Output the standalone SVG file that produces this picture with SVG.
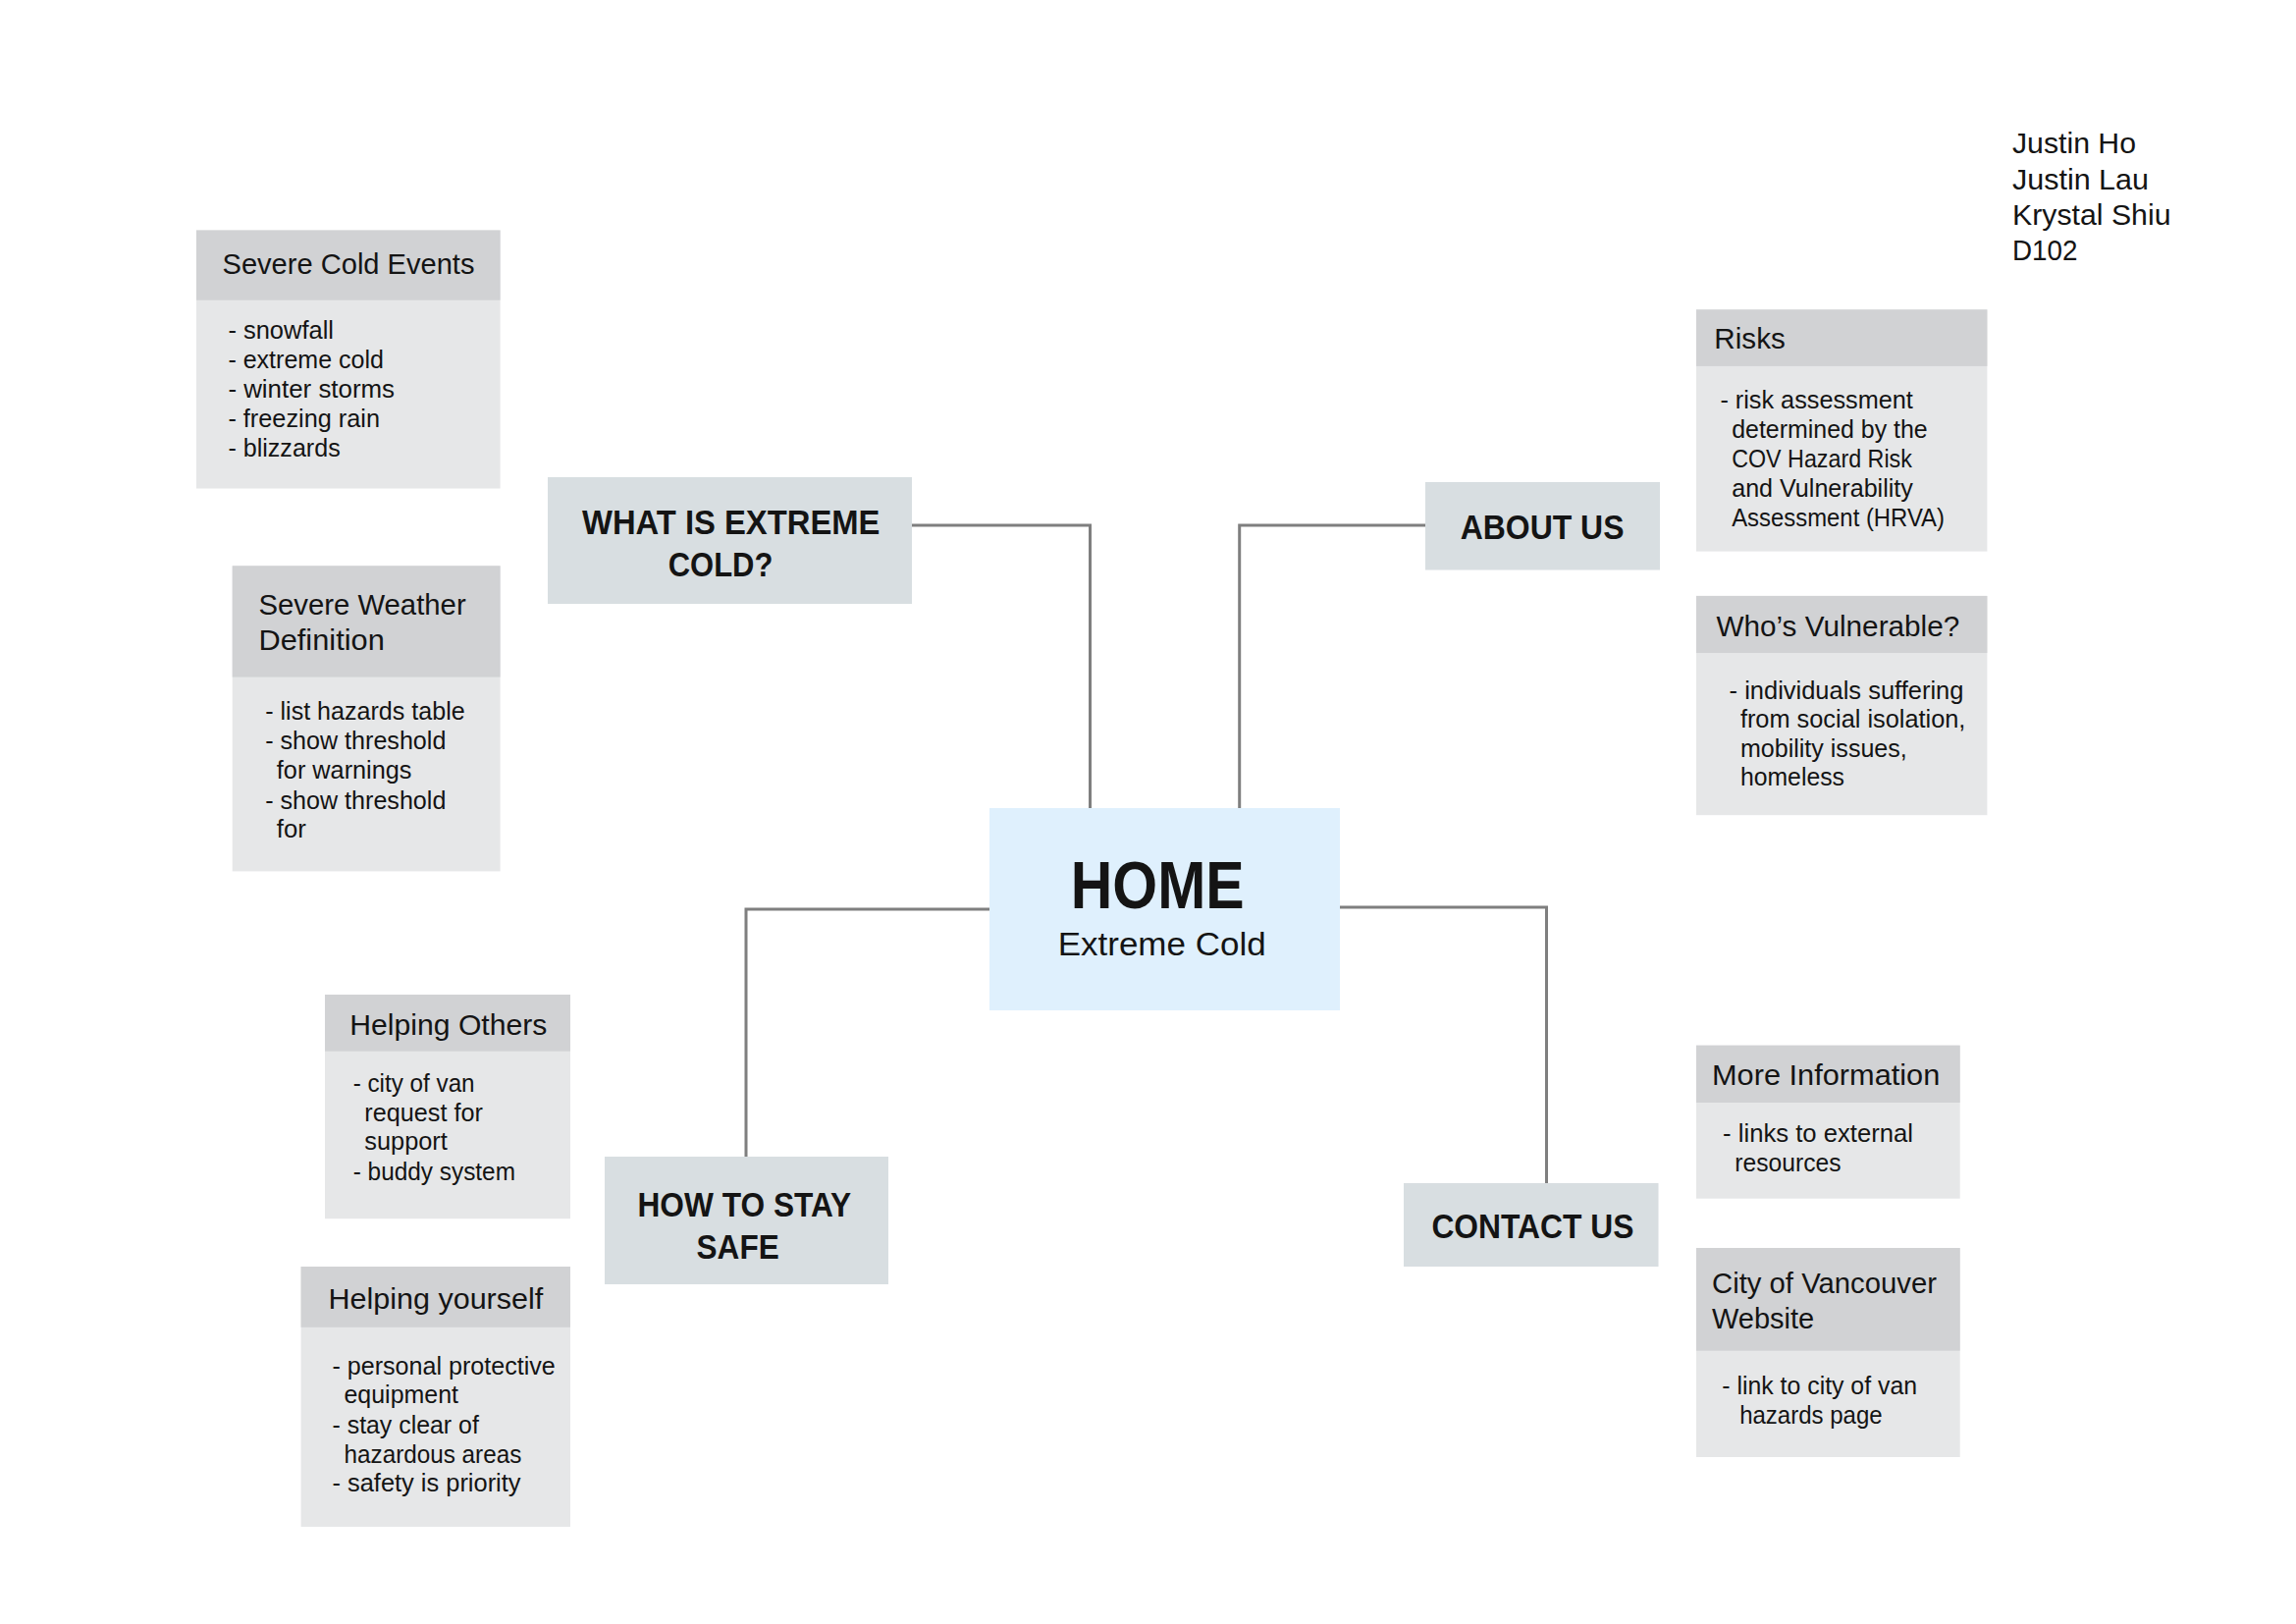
<svg xmlns="http://www.w3.org/2000/svg" width="2339" height="1654" viewBox="0 0 2339 1654">
<style>
text{font-family:"Liberation Sans",Arial,sans-serif;fill:#141414}
.hb{fill:#d1d2d4}
.bb{fill:#e6e7e8}
.nb{fill:#d8dee1}
.hd{font-size:29px}
.bd{font-size:25px}
.nd{font-size:35px;font-weight:bold}
.nm{font-size:30px}
.cn{fill:none;stroke:#7f7f7f;stroke-width:3}
</style>
<rect width="2339" height="1654" fill="#ffffff"/>
<g id="connectors">
<path class="cn" d="M929 535 H1110.5 V823"/>
<path class="cn" d="M1452 535 H1262.7 V823"/>
<path class="cn" d="M1008 926 H760 V1178"/>
<path class="cn" d="M1365 924 H1575.5 V1205"/>
</g>
<g id="names">
<text class="nm" x="2050" y="156" textLength="126" lengthAdjust="spacingAndGlyphs">Justin Ho</text>
<text class="nm" x="2050" y="192.5" textLength="139" lengthAdjust="spacingAndGlyphs">Justin Lau</text>
<text class="nm" x="2050" y="228.5" textLength="161.5" lengthAdjust="spacingAndGlyphs">Krystal Shiu</text>
<text class="nm" x="2050" y="265" textLength="66.5" lengthAdjust="spacingAndGlyphs">D102</text>
</g>
<g id="home">
<rect x="1008" y="823" width="357" height="206" fill="#dff0fd"/>
<text x="1090.7" y="925" font-size="68" font-weight="bold" textLength="177" lengthAdjust="spacingAndGlyphs">HOME</text>
<text x="1077.7" y="972.5" font-size="34" textLength="212" lengthAdjust="spacingAndGlyphs">Extreme Cold</text>
</g>
<g id="what-is-extreme-cold">
<rect class="nb" x="558" y="486" width="371" height="129"/>
<text class="nd" x="593" y="543.7" textLength="303.4" lengthAdjust="spacingAndGlyphs">WHAT IS EXTREME</text>
<text class="nd" x="680.7" y="587" textLength="106.7" lengthAdjust="spacingAndGlyphs">COLD?</text>
</g>
<g id="about-us">
<rect class="nb" x="1452" y="491" width="239" height="89.5"/>
<text class="nd" x="1487.7" y="549" textLength="166.8" lengthAdjust="spacingAndGlyphs">ABOUT US</text>
</g>
<g id="how-to-stay-safe">
<rect class="nb" x="616" y="1178" width="289" height="130"/>
<text class="nd" x="649.5" y="1238.6" textLength="217.6" lengthAdjust="spacingAndGlyphs">HOW TO STAY</text>
<text class="nd" x="709.6" y="1282" textLength="84.1" lengthAdjust="spacingAndGlyphs">SAFE</text>
</g>
<g id="contact-us">
<rect class="nb" x="1430" y="1205" width="259.5" height="85"/>
<text class="nd" x="1458.4" y="1260.7" textLength="206.1" lengthAdjust="spacingAndGlyphs">CONTACT US</text>
</g>
<g id="severe-cold-events">
<rect class="bb" x="200" y="234.5" width="309.6" height="263"/>
<rect class="hb" x="200" y="234.5" width="309.6" height="71.2"/>
<text class="hd" x="226.5" y="279" textLength="257" lengthAdjust="spacingAndGlyphs">Severe Cold Events</text>
<text class="bd" x="232.4" y="345" textLength="107.6" lengthAdjust="spacingAndGlyphs">- snowfall</text>
<text class="bd" x="232.4" y="375.4" textLength="158.5" lengthAdjust="spacingAndGlyphs">- extreme cold</text>
<text class="bd" x="232.4" y="404.8" textLength="169.6" lengthAdjust="spacingAndGlyphs">- winter storms</text>
<text class="bd" x="232.4" y="434.7" textLength="154.6" lengthAdjust="spacingAndGlyphs">- freezing rain</text>
<text class="bd" x="232.4" y="465.1" textLength="114.3" lengthAdjust="spacingAndGlyphs">- blizzards</text>
</g>
<g id="severe-weather-definition">
<rect class="bb" x="236.7" y="576.3" width="272.9" height="311.1"/>
<rect class="hb" x="236.7" y="576.3" width="272.9" height="113.3"/>
<text class="hd" x="263.4" y="626.3" textLength="211.3" lengthAdjust="spacingAndGlyphs">Severe Weather</text>
<text class="hd" x="263.4" y="662" textLength="128.4" lengthAdjust="spacingAndGlyphs">Definition</text>
<text class="bd" x="270.2" y="733.4" textLength="203.5" lengthAdjust="spacingAndGlyphs">- list hazards table</text>
<text class="bd" x="270.2" y="762.9" textLength="184.2" lengthAdjust="spacingAndGlyphs">- show threshold</text>
<text class="bd" x="281.8" y="792.8" textLength="137.7" lengthAdjust="spacingAndGlyphs">for warnings</text>
<text class="bd" x="270.2" y="823.6" textLength="184.2" lengthAdjust="spacingAndGlyphs">- show threshold</text>
<text class="bd" x="281.8" y="853" textLength="30" lengthAdjust="spacingAndGlyphs">for</text>
</g>
<g id="risks">
<rect class="bb" x="1728" y="315.3" width="296.4" height="246.3"/>
<rect class="hb" x="1728" y="315.3" width="296.4" height="57.6"/>
<text class="hd" x="1746.3" y="355.4" textLength="72.5" lengthAdjust="spacingAndGlyphs">Risks</text>
<text class="bd" x="1752.4" y="415.8" textLength="196.5" lengthAdjust="spacingAndGlyphs">- risk assessment</text>
<text class="bd" x="1764.2" y="445.5" textLength="199.5" lengthAdjust="spacingAndGlyphs">determined by the</text>
<text class="bd" x="1764.2" y="476.2" textLength="183.7" lengthAdjust="spacingAndGlyphs">COV Hazard Risk</text>
<text class="bd" x="1764.2" y="506.4" textLength="184.7" lengthAdjust="spacingAndGlyphs">and Vulnerability</text>
<text class="bd" x="1764.2" y="536.1" textLength="216.8" lengthAdjust="spacingAndGlyphs">Assessment (HRVA)</text>
</g>
<g id="whos-vulnerable">
<rect class="bb" x="1728" y="606.9" width="296.4" height="223.3"/>
<rect class="hb" x="1728" y="606.9" width="296.4" height="58.1"/>
<text class="hd" x="1748.4" y="648" textLength="247.9" lengthAdjust="spacingAndGlyphs">Who’s Vulnerable?</text>
<text class="bd" x="1761.6" y="711.7" textLength="238.8" lengthAdjust="spacingAndGlyphs">- individuals suffering</text>
<text class="bd" x="1772.9" y="741.4" textLength="229.5" lengthAdjust="spacingAndGlyphs">from social isolation,</text>
<text class="bd" x="1772.9" y="770.7" textLength="169.9" lengthAdjust="spacingAndGlyphs">mobility issues,</text>
<text class="bd" x="1772.9" y="800.4" textLength="106.1" lengthAdjust="spacingAndGlyphs">homeless</text>
</g>
<g id="helping-others">
<rect class="bb" x="331" y="1013" width="250" height="228.2"/>
<rect class="hb" x="331" y="1013" width="250" height="57.7"/>
<text class="hd" x="356.3" y="1053.6" textLength="201.1" lengthAdjust="spacingAndGlyphs">Helping Others</text>
<text class="bd" x="359.7" y="1111.7" textLength="123.9" lengthAdjust="spacingAndGlyphs">- city of van</text>
<text class="bd" x="371.3" y="1142.4" textLength="120.6" lengthAdjust="spacingAndGlyphs">request for</text>
<text class="bd" x="371.3" y="1171.3" textLength="84.5" lengthAdjust="spacingAndGlyphs">support</text>
<text class="bd" x="359.7" y="1201.6" textLength="165.3" lengthAdjust="spacingAndGlyphs">- buddy system</text>
</g>
<g id="helping-yourself">
<rect class="bb" x="306.6" y="1290" width="274.4" height="265"/>
<rect class="hb" x="306.6" y="1290" width="274.4" height="61.8"/>
<text class="hd" x="334.4" y="1333" textLength="218.9" lengthAdjust="spacingAndGlyphs">Helping yourself</text>
<text class="bd" x="338.5" y="1399.6" textLength="227.2" lengthAdjust="spacingAndGlyphs">- personal protective</text>
<text class="bd" x="350.5" y="1429.1" textLength="116.5" lengthAdjust="spacingAndGlyphs">equipment</text>
<text class="bd" x="338.5" y="1459.9" textLength="149.3" lengthAdjust="spacingAndGlyphs">- stay clear of</text>
<text class="bd" x="350.5" y="1489.5" textLength="180.8" lengthAdjust="spacingAndGlyphs">hazardous areas</text>
<text class="bd" x="338.5" y="1519" textLength="192" lengthAdjust="spacingAndGlyphs">- safety is priority</text>
</g>
<g id="more-information">
<rect class="bb" x="1728" y="1064.7" width="268.7" height="156"/>
<rect class="hb" x="1728" y="1064.7" width="268.7" height="58.3"/>
<text class="hd" x="1744" y="1105" textLength="232.3" lengthAdjust="spacingAndGlyphs">More Information</text>
<text class="bd" x="1755.1" y="1163.3" textLength="193.9" lengthAdjust="spacingAndGlyphs">- links to external</text>
<text class="bd" x="1767.3" y="1193.3" textLength="108.2" lengthAdjust="spacingAndGlyphs">resources</text>
</g>
<g id="city-of-vancouver-website">
<rect class="bb" x="1728" y="1271" width="268.7" height="213"/>
<rect class="hb" x="1728" y="1271" width="268.7" height="104.7"/>
<text class="hd" x="1744" y="1316.7" textLength="229" lengthAdjust="spacingAndGlyphs">City of Vancouver</text>
<text class="hd" x="1744" y="1353.3" textLength="104.2" lengthAdjust="spacingAndGlyphs">Website</text>
<text class="bd" x="1754.3" y="1420" textLength="198.7" lengthAdjust="spacingAndGlyphs">- link to city of van</text>
<text class="bd" x="1772.2" y="1450" textLength="145.4" lengthAdjust="spacingAndGlyphs">hazards page</text>
</g>
</svg>
